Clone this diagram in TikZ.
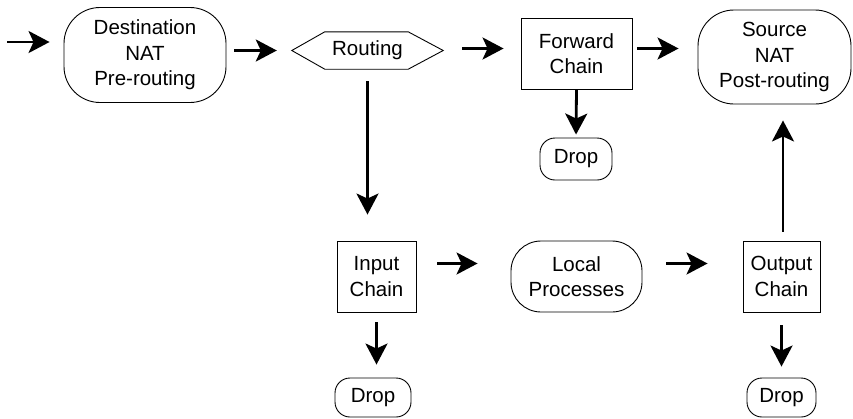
\documentclass[tikz,border=0pt]{standalone}
\usepackage{fontspec}
\setmainfont{Liberation Sans}
\usetikzlibrary{arrows.meta}
\begin{document}
\begin{tikzpicture}[x=1pt,y=-1pt,
  lbl/.style={font=\fontsize{20.5pt}{25.5pt}\selectfont, align=center, inner sep=0pt, text=black},
  sqbox/.style={lbl, draw, line width=0.9pt},
  pill/.style={lbl, draw, line width=0.9pt, rounded corners=#1},
  arr/.style={line width=2.8pt, -{Stealth[length=21pt,width=22pt,inset=5pt]}}]
\useasboundingbox (0,0) rectangle (853,418);
\node[pill=36pt, minimum width=162pt, minimum height=95pt] (dest) at (145,55) {Destination\\NAT\\Pre-routing};
\node[lbl, minimum width=151pt, minimum height=37pt] (routing) at (367.5,50.5) {Routing};
\draw[line width=0.9pt] (routing.west) -- ([xshift=33pt]routing.north west) -- ([xshift=-35pt]routing.north east) -- (routing.east) -- ([xshift=-35pt]routing.south east) -- ([xshift=33pt]routing.south west) -- cycle;
\node[sqbox, minimum width=111pt, minimum height=71pt] (forward) at (576.5,53.5) {Forward\\Chain};
\node[pill=36pt, minimum width=153pt, minimum height=94pt] (source) at (774.5,57) {Source\\NAT\\Post-routing};
\node[pill=15pt, minimum width=72pt, minimum height=42pt] (drop1) at (576,159) {Drop};
\node[sqbox, minimum width=79pt, minimum height=71pt] (input) at (376.5,276.5) {Input\\Chain};
\node[pill=30pt, minimum width=131pt, minimum height=71pt] (local) at (576.5,276.5) {Local\\Processes};
\node[sqbox, minimum width=77pt, minimum height=71pt] (output) at (781.5,276.5) {Output\\Chain};
\node[pill=15pt, minimum width=76pt, minimum height=39pt] (drop2) at (373,397.5) {Drop};
\node[pill=15pt, minimum width=69pt, minimum height=39pt] (drop3) at (781.5,397.5) {Drop};
\coordinate (in) at (7,42);
\draw[arr, shorten >=14pt] (in) -- (in -| dest.west);
\draw[arr, shorten <=8pt, shorten >=15pt] (dest.east |- routing.west) -- (routing.west);
\draw[arr, shorten <=19pt, shorten >=17pt] ([yshift=2pt]routing.east) -- ([yshift=2pt]routing.east -| forward.west);
\draw[arr, shorten <=5pt, shorten >=19pt] ([yshift=5pt]forward.east) -- ([yshift=5pt]forward.east -| source.west);
\draw[arr, shorten >=3pt] (forward.south) -- (drop1.north);
\draw[arr, shorten <=12pt, shorten >=26pt] (routing.south) -- (routing.south |- input.north);
\draw[arr, shorten <=10pt, shorten >=13pt] (input.south) -- (input.south |- drop2.north);
\draw[arr, shorten <=21pt, shorten >=33pt] ([yshift=13pt]input.east) -- ([yshift=13pt]input.east -| local.west);
\draw[arr, shorten <=24pt, shorten >=35pt] ([yshift=13pt]local.east) -- ([yshift=13pt]local.east -| output.west);
\draw[arr, shorten <=13pt, shorten >=11pt] (output.south) -- (output.south |- drop3.north);
\draw[arr, shorten <=9pt, shorten >=16pt] ([xshift=1.5pt]output.north) -- ([xshift=1.5pt]output.north |- source.south);
\end{tikzpicture}
\end{document}
